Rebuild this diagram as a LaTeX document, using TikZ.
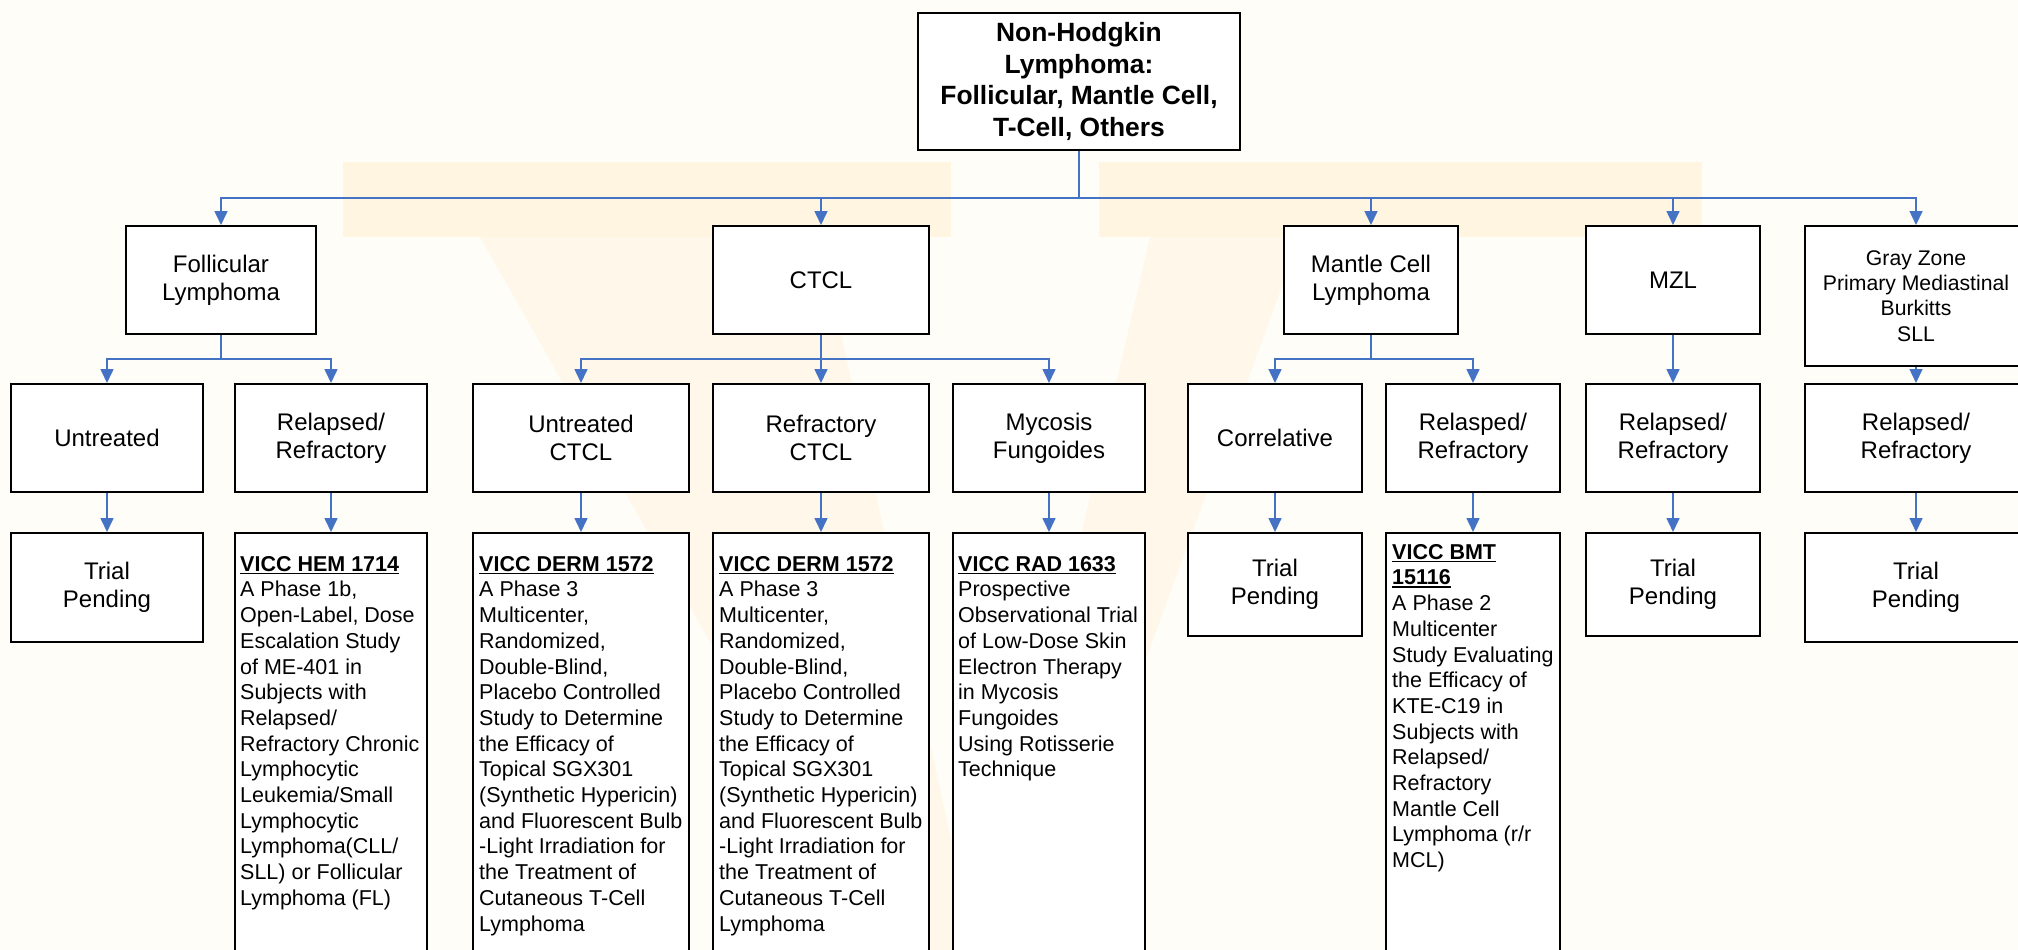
\documentclass[tikz,border=0pt]{standalone}
\usepackage{fontspec}
\setmainfont{Liberation Sans}
\usetikzlibrary{arrows.meta,positioning}
\definecolor{linkblue}{HTML}{4472C4}
\definecolor{bgcream}{HTML}{FFFDF7}
\definecolor{markgold}{HTML}{FFF5E0}
\definecolor{markpale}{HTML}{FFF8EA}
\newcommand{\trialid}[1]{\setbox0\hbox{\bfseries #1}\rlap{\rule[-2.8pt]{\wd0}{1.5pt}}\box0}

\begin{document}
\begin{tikzpicture}[x=1pt, y=-1pt,
        box/.style={draw=black, line width=2pt, fill=white, inner sep=0pt, align=center},
        head/.style={box, font=\fontsize{26.4}{31.7}\selectfont\bfseries},
        kind/.style={box, minimum height=108pt, font=\fontsize{24}{28}\selectfont},
        study/.style={anchor=north west, inner sep=0pt, align=left, font=\fontsize{21.5}{25.7}\selectfont},
        link/.style={linkblue, line width=1.6pt, >={Triangle[length=14pt,width=13pt]}}]
        \useasboundingbox (0,0) rectangle (2018,950);
        \clip (0,0) rectangle (2018,950);
        \fill [bgcream] (0,0) rectangle (2018,950);
        \fill [markgold] (343,162) rectangle (951,237);
        \fill [markgold] (1099,162) rectangle (1702,237);
        \fill [markpale] (480,237) -- (820,237) -- (975,950) -- (885,950) -- cycle;
        \fill [markpale] (1150,237) -- (1300,237) -- (1040,950) -- (985,950) -- cycle;

        \node[head, minimum width=322pt, minimum height=137pt] (nhl) at (1079,81.5) {Non-Hodgkin\\Lymphoma:\\Follicular, Mantle Cell,\\T-Cell, Others};

        \node[kind, minimum width=190pt] (fol) at (221,280) {Follicular\\Lymphoma};
        \node[kind, minimum width=216pt] (ctcl) at (821,280) {CTCL};
        \node[kind, minimum width=174pt] (mcl) at (1371,280) {Mantle Cell\\Lymphoma};
        \node[kind, minimum width=174pt] (mzl) at (1673,280) {MZL};
        \node[box, minimum width=222pt, minimum height=140pt, font=\fontsize{21.2}{25.3}\selectfont] (gray) at (1916,296) {Gray Zone\\Primary Mediastinal\\Burkitts\\SLL};

        \node[kind, minimum width=192pt] (untr) at (107,438) {Untreated};
        \node[kind, minimum width=192pt] (frr) at (331,438) {Relapsed/\\Refractory};
        \node[kind, minimum width=216pt] (uctcl) at (581,438) {Untreated\\CTCL};
        \node[kind, minimum width=216pt] (rctcl) at (821,438) {Refractory\\CTCL};
        \node[kind, minimum width=192pt] (myc) at (1049,438) {Mycosis\\Fungoides};
        \node[kind, minimum width=174pt] (corr) at (1275,438) {Correlative};
        \node[kind, minimum width=174pt] (mrr) at (1473,438) {Relasped/\\Refractory};
        \node[kind, minimum width=174pt] (zrr) at (1673,438) {Relapsed/\\Refractory};
        \node[kind, minimum width=222pt] (grr) at (1916,438) {Relapsed/\\Refractory};

        \foreach \n/\x/\w/\h in {tp1/107/192/109, tp2/1275/174/103, tp3/1673/174/103, tp4/1916/222/109} {
            \node[kind, minimum width=\w pt, minimum height=\h pt] (\n) at (\x,{533+\h/2}) {Trial\\Pending};
        }
        \foreach \n/\x/\w in {hem/331/192, derm1/581/216, derm2/821/216, rad/1049/192, bmt/1473/174} {
            \node[box, minimum width=\w pt, minimum height=427pt] (\n) at (\x,746.5) {};
        }

        \node[study] (hemtxt) at ([shift={(6,24)}]hem.north west) {\trialid{VICC HEM 1714}\\A Phase 1b,\\Open-Label, Dose\\Escalation Study\\of ME-401 in\\Subjects with\\Relapsed/\\Refractory Chronic\\Lymphocytic\\Leukemia/Small\\Lymphocytic\\Lymphoma(CLL/\\SLL) or Follicular\\Lymphoma (FL)};
        \node[study] (derm1txt) at ([shift={(7,24)}]derm1.north west) {\trialid{VICC DERM 1572}\\A Phase 3\\Multicenter,\\Randomized,\\Double-Blind,\\Placebo Controlled\\Study to Determine\\the Efficacy of\\Topical SGX301\\(Synthetic Hypericin)\\and Fluorescent Bulb\\-Light Irradiation for\\the Treatment of\\Cutaneous T-Cell\\Lymphoma};
        \node[study] (derm2txt) at ([shift={(7,24)}]derm2.north west) {\trialid{VICC DERM 1572}\\A Phase 3\\Multicenter,\\Randomized,\\Double-Blind,\\Placebo Controlled\\Study to Determine\\the Efficacy of\\Topical SGX301\\(Synthetic Hypericin)\\and Fluorescent Bulb\\-Light Irradiation for\\the Treatment of\\Cutaneous T-Cell\\Lymphoma};
        \node[study] (radtxt) at ([shift={(6,24)}]rad.north west) {\trialid{VICC RAD 1633}\\Prospective\\Observational Trial\\of Low-Dose Skin\\Electron Therapy\\in Mycosis\\Fungoides\\Using Rotisserie\\Technique};
        \node[study] (bmttxt) at ([shift={(7,12)}]bmt.north west) {\trialid{VICC BMT}\\\trialid{15116}\\A Phase 2\\Multicenter\\Study Evaluating\\the Efficacy of\\KTE-C19 in\\Subjects with\\Relapsed/\\Refractory\\Mantle Cell\\Lymphoma (r/r\\MCL)};

        \coordinate (rail) at (1079,198);
        \draw [link] (nhl) -- (rail);
        \foreach \c in {fol,ctcl,mcl,mzl,gray} {
            \draw [link, ->] (rail) -| (\c.north);
        }
        \foreach \p/\c in {fol/untr, fol/frr, ctcl/uctcl, ctcl/rctcl, ctcl/myc, mcl/corr, mcl/mrr} {
            \draw [link, ->] (\p.south) -- ++(0,24) -| (\c.north);
        }
        \foreach \p/\c in {mzl/zrr, gray/grr, untr/tp1, frr/hem, uctcl/derm1, rctcl/derm2, myc/rad, corr/tp2, mrr/bmt, zrr/tp3, grr/tp4} {
            \draw [link, ->] (\p.south) -- (\c.north);
        }
\end{tikzpicture}
\end{document}
